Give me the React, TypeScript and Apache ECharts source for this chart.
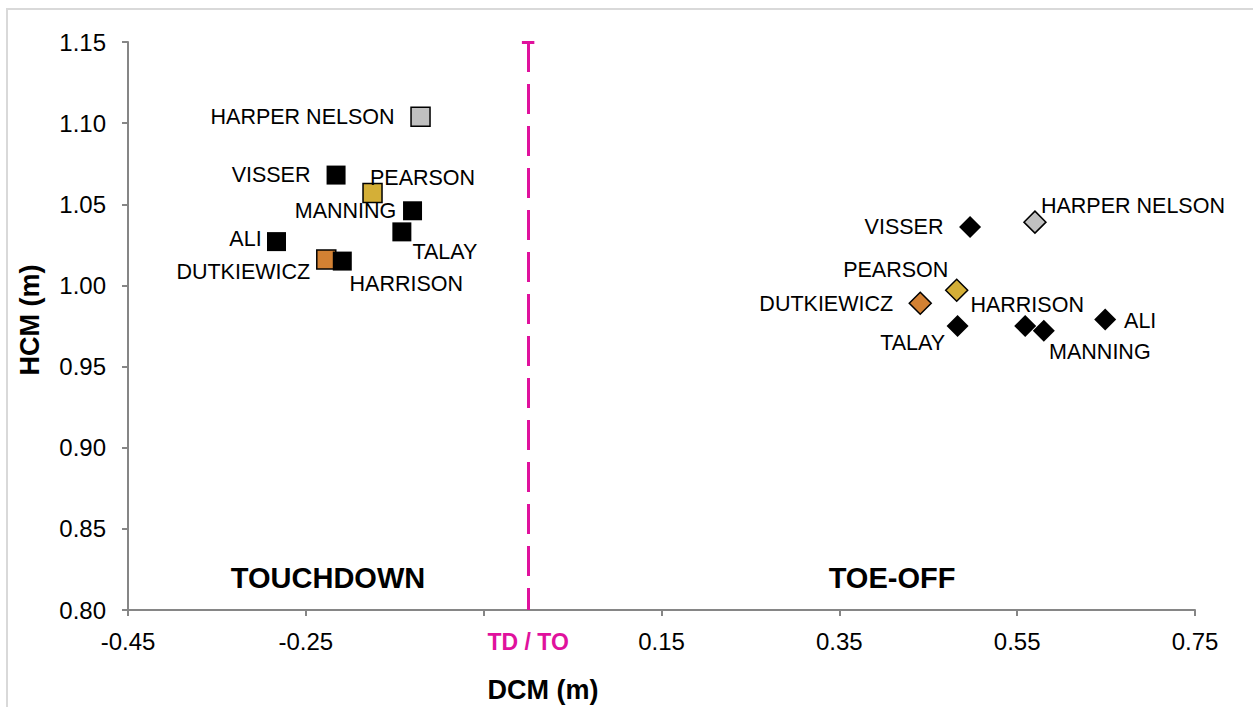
import React, { useEffect, useRef } from "react";
import * as echarts from "echarts";

// ---- Data ----
const athletes = ["HARPER NELSON", "VISSER", "PEARSON", "MANNING", "TALAY", "ALI", "DUTKIEWICZ", "HARRISON"];
const touchdownDCM = [-0.121, -0.216, -0.175, -0.13, -0.142, -0.283, -0.227, -0.209];
const touchdownHCM = [1.104, 1.068, 1.057, 1.046, 1.033, 1.027, 1.016, 1.015];
const toeOffDCM = [0.57, 0.497, 0.482, 0.58, 0.483, 0.649, 0.441, 0.559];
const toeOffHCM = [1.039, 1.036, 0.997, 0.972, 0.975, 0.979, 0.989, 0.975];
const xTicks = [-0.45, -0.25, -0.05, 0.15, 0.35, 0.55, 0.75];
const yTicks = [0.8, 0.85, 0.9, 0.95, 1.0, 1.05, 1.1, 1.15];

// ---- Styles ----
const athleteColors: Record<string, string> = {
  "HARPER NELSON": "#C0C0C0",
  PEARSON: "#D4AF37",
  DUTKIEWICZ: "#D38133",
};
const tdLabelOffsets: Record<string, number[]> = {
  "HARPER NELSON": [-118, 0],
  VISSER: [-65, 0],
  PEARSON: [50, -15],
  MANNING: [-67, 0],
  TALAY: [43, 20],
  ALI: [-31, -3],
  DUTKIEWICZ: [-83, 13],
  HARRISON: [64, 23],
};
const toLabelOffsets: Record<string, number[]> = {
  "HARPER NELSON": [98, -16],
  VISSER: [-66, 0],
  PEARSON: [-61, -20],
  MANNING: [56, 21],
  TALAY: [-45, 17],
  ALI: [35, 1],
  DUTKIEWICZ: [-94, 1],
  HARRISON: [2, -21],
};
const MAGENTA = "#E0119D";
const FONT = "'Liberation Sans', Arial, sans-serif";
const AXIS_GRAY = "#868686";

function buildData(xs: number[], ys: number[], offsets: Record<string, number[]>) {
  return athletes.map((name, i) => ({
    name,
    value: [xs[i], ys[i]],
    itemStyle: {
      color: athleteColors[name] || "#000000",
      borderColor: "#000000",
      borderWidth: athleteColors[name] ? 1.5 : 0,
      opacity: 1,
    },
    label: {
      show: true,
      position: "inside",
      offset: offsets[name],
      formatter: name,
      color: "#000000",
      opacity: 1,
      fontSize: 21.5,
      fontFamily: FONT,
    },
  }));
}

export default function App() {
  const ref = useRef<HTMLDivElement>(null);
  useEffect(() => {
    if (!ref.current) return;
    const chart = echarts.init(ref.current, null, { renderer: "svg" });
    const fmt = (v: number) => {
      if (!xTicks.some((t) => Math.abs(t - v) < 1e-6)) return "";
      if (Math.abs(v + 0.05) < 1e-6) return "";
      return v.toFixed(2);
    };
    chart.setOption({
      animation: false,
      backgroundColor: "#ffffff",
      grid: { left: 128, right: 58, top: 42, bottom: 97 },
      xAxis: {
        type: "value",
        min: xTicks[0],
        max: xTicks[xTicks.length - 1],
        interval: 0.2,
        axisLine: { show: true, onZero: false, lineStyle: { color: AXIS_GRAY, width: 2 } },
        axisTick: { show: true, length: 6, lineStyle: { color: AXIS_GRAY, width: 2 } },
        splitLine: { show: false },
        axisLabel: { formatter: fmt, color: "#000", fontSize: 24, fontFamily: FONT, margin: 19 },
      },
      yAxis: {
        type: "value",
        min: yTicks[0],
        max: yTicks[yTicks.length - 1],
        interval: 0.05,
        axisLine: { show: true, onZero: false, lineStyle: { color: AXIS_GRAY, width: 2 } },
        axisTick: { show: true, length: 6, lineStyle: { color: AXIS_GRAY, width: 2 } },
        splitLine: { show: false },
        axisLabel: {
          formatter: (v: number) => v.toFixed(2),
          color: "#000",
          fontSize: 24,
          fontFamily: FONT,
          margin: 22,
        },
      },
      graphic: [
        {
          type: "rect",
          shape: { x: 7, y: 9, width: 1270, height: 720 },
          style: { fill: "none", stroke: "#D9D9D9", lineWidth: 2 },
          silent: true,
        },
        {
          type: "text",
          x: 328,
          y: 578,
          style: { text: "TOUCHDOWN", font: `bold 29px ${FONT}`, fill: "#000", textAlign: "center", textVerticalAlign: "middle" },
        },
        {
          type: "text",
          x: 892,
          y: 578,
          style: { text: "TOE-OFF", font: `bold 29px ${FONT}`, fill: "#000", textAlign: "center", textVerticalAlign: "middle" },
        },
        {
          type: "text",
          x: 543,
          y: 690,
          style: { text: "DCM (m)", font: `bold 27px ${FONT}`, fill: "#000", textAlign: "center", textVerticalAlign: "middle" },
        },
        {
          type: "text",
          x: 30,
          y: 320,
          rotation: Math.PI / 2,
          style: { text: "HCM (m)", font: `bold 27px ${FONT}`, fill: "#000", textAlign: "center", textVerticalAlign: "middle" },
        },
      ],
      series: [
        {
          name: "Touchdown",
          type: "scatter",
          symbol: "rect",
          symbolSize: 19,
          data: buildData(touchdownDCM, touchdownHCM, tdLabelOffsets),
          z: 3,
          markLine: {
            silent: true,
            symbol: ["none", "none"],
            animation: false,
            data: [
              [
                { coord: [0, 1.15] },
                { coord: [0, 0.8] },
              ],
              [
                { coord: [-0.007, 1.15], lineStyle: { type: "solid" } },
                { coord: [0.007, 1.15] },
              ],
            ],
            lineStyle: { color: MAGENTA, width: 3, type: [30, 12] },
            label: {
              show: true,
              position: "end",
              distance: 20,
              formatter: (p: any) => (p.dataIndex === 0 ? "TD / TO" : ""),
              color: MAGENTA,
              fontWeight: "bold",
              fontSize: 23,
              fontFamily: FONT,
            },
          },
        },
        {
          name: "Toe-off",
          type: "scatter",
          symbol: "diamond",
          symbolSize: 22,
          data: buildData(toeOffDCM, toeOffHCM, toLabelOffsets),
          z: 3,
        },
      ],
    });
    return () => chart.dispose();
  }, []);
  return (
    <div
      ref={ref}
      style={{ position: "absolute", left: 0, top: 0, width: 1253, height: 707 }}
    />
  );
}
